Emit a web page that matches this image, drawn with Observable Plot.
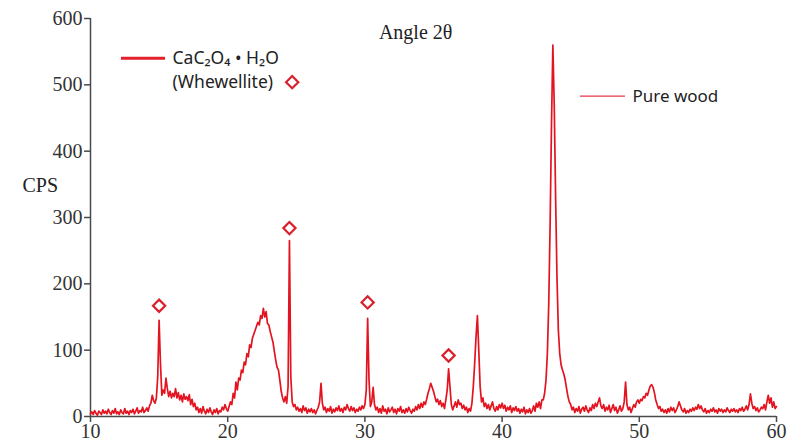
<!DOCTYPE html>
<html>
<head>
<meta charset="utf-8">
<script src="https://cdn.jsdelivr.net/npm/d3@7"></script>
<script src="https://cdn.jsdelivr.net/npm/@observablehq/plot@0.6"></script>
<style>
  html, body { margin: 0; padding: 0; background: #fff; }
  #chart svg g[aria-label$="tick label"], #chart svg g[aria-label$="tick label"] text {
    font-size: 20px !important;
    font-family: 'Liberation Serif', 'DejaVu Serif', serif !important;
    fill: #333;
  }
</style>
</head>
<body>
<div id="chart"></div>
<script>
// CPS readings, one every 0.1° of 2θ, starting at 10.0°
const startAngle = 10;
const angleStep = 0.1;
const cps = [
  4,7,3,9,5,2,8,6,3,10,
  5,8,4,11,6,3,9,5,12,4,
  7,3,10,6,4,12,5,8,3,9,
  6,11,4,8,13,5,9,7,14,6,
  9,13,8,16,20,32,24,20,28,60,
  145,80,32,40,35,58,42,30,38,28,
  35,30,42,28,36,25,32,22,34,26,
  30,24,33,18,26,15,20,10,14,6,
  12,5,15,8,4,11,6,13,7,3,
  10,6,12,4,9,7,14,10,18,12,
  8,15,22,18,35,28,52,40,58,55,
  70,66,82,78,95,90,108,104,118,124,
  130,136,142,138,152,148,163,150,158,140,
  138,128,120,112,98,85,74,70,55,38,
  28,22,30,20,45,265,60,22,15,18,
  10,14,8,12,6,16,9,13,5,11,
  7,12,6,10,4,9,14,22,50,20,
  10,14,6,12,8,15,5,11,7,13,
  9,16,8,12,6,14,10,18,12,8,
  15,9,13,6,11,8,14,10,16,12,
  18,40,148,55,15,22,44,18,10,14,
  6,12,5,16,8,11,4,13,7,10,
  14,6,11,4,12,8,15,6,10,5,
  12,7,14,9,5,11,8,15,10,18,
  12,20,14,22,18,26,35,42,50,44,
  38,30,22,26,18,24,15,20,12,25,
  40,72,45,18,10,16,22,14,25,18,
  20,12,17,10,14,6,12,8,20,45,
  80,120,152,100,45,22,28,15,20,12,
  18,10,16,22,12,8,15,10,18,13,
  20,12,17,8,14,10,16,6,13,9,
  15,8,12,5,11,7,14,4,10,6,
  12,5,9,16,8,20,14,22,12,25,
  25,35,55,95,170,290,440,560,470,330,
  210,130,95,78,70,64,55,42,30,22,
  18,10,14,6,12,8,15,5,11,14,
  8,16,10,6,13,9,18,12,20,15,
  22,28,16,12,18,8,14,10,17,6,
  12,18,9,14,5,10,16,8,12,22,
  52,18,10,14,6,12,18,14,22,25,
  20,26,24,30,28,35,32,40,46,48,
  44,36,25,18,12,15,8,11,6,10,
  5,12,7,14,9,13,6,10,15,22,
  16,10,7,12,5,9,6,11,8,13,
  9,14,11,18,12,16,10,7,12,5,
  9,6,11,8,13,7,10,5,12,8,
  11,6,10,7,13,9,6,11,8,12,
  7,10,6,12,9,14,8,11,16,10,
  18,34,20,12,15,9,13,7,10,14,
  12,18,10,22,32,20,28,14,22,12,
  15
];
// Whewellite marker positions (angle, CPS)
const markAngle = [15.0, 24.5, 30.2, 36.1];
const markCps = [167, 284, 172, 92];
// Axis ticks
const xTicks = [10, 20, 30, 40, 50, 60];
const yTicks = [0, 100, 200, 300, 400, 500, 600];

const trace = cps.map((v, i) => ({angle: startAngle + i * angleStep, cps: v}));
const markers = markAngle.map((a, i) => ({angle: a, cps: markCps[i]}));

const red = "#e3141f";
const axisColor = "#4a4a4a";
const serif = "'Liberation Serif', 'DejaVu Serif', serif";
const sans = "'Noto Sans', 'Open Sans', sans-serif";

const chart = Plot.plot({
  width: 798,
  height: 448,
  marginLeft: 90,
  marginRight: 22,
  marginTop: 18,
  marginBottom: 32,
  style: {fontFamily: serif, fontSize: "20px", color: "#333", background: "#fff"},
  x: {domain: [10, 60]},
  y: {domain: [0, 600]},
  marks: [
    Plot.axisX({ticks: xTicks, tickSize: 6, tickPadding: 1, tickFormat: d3.format("d"), label: null, stroke: axisColor, strokeWidth: 1.5, fontSize: 20, fill: "#333", fontFamily: serif}),
    Plot.axisY({ticks: yTicks, tickSize: 6, tickPadding: 2, tickFormat: d3.format("d"), label: null, stroke: axisColor, strokeWidth: 1.5, fontSize: 20, fill: "#333", fontFamily: serif}),
    Plot.ruleY([0], {stroke: axisColor, strokeWidth: 1.5}),
    Plot.ruleX([10], {stroke: axisColor, strokeWidth: 1.5}),
    Plot.line(trace, {x: "angle", y: "cps", stroke: red, strokeWidth: 1.7, strokeLinejoin: "round"}),
    Plot.dot(markers, {x: "angle", y: "cps", symbol: "diamond2", r: 5.5, stroke: "#d9202b", strokeWidth: 2.2, fill: "#fff"}),
    // axis titles
    Plot.text(["Angle 2θ"], {x: 33.7, y: 579, fontSize: 20, fill: "#222", fontFamily: serif}),
    Plot.text(["CPS"], {y: 348, frameAnchor: "left", dx: -68, textAnchor: "start", fontSize: 20, fill: "#222", fontFamily: serif}),
    // legend
    Plot.ruleY([540], {x1: 12.26, x2: 15.47, stroke: "#e4202c", strokeWidth: 3}),
    Plot.text(["CaC₂O₄ • H₂O"], {x: 15.98, y: 540, textAnchor: "start", fontFamily: sans, fontSize: 17.5, fill: "#222"}),
    Plot.text(["(Whewellite)"], {x: 15.98, y: 504, textAnchor: "start", fontFamily: sans, fontSize: 17.5, fill: "#222"}),
    Plot.dot([0], {x: 24.7, y: 504, symbol: "diamond2", r: 5.5, stroke: "#d9202b", strokeWidth: 2.2, fill: "#fff"}),
    Plot.ruleY([483], {x1: 45.71, x2: 48.99, stroke: "#e8384a", strokeWidth: 1.3}),
    Plot.text(["Pure wood"], {x: 49.5, y: 483, textAnchor: "start", fontFamily: sans, fontSize: 17, fill: "#222"})
  ]
});
document.getElementById("chart").appendChild(chart);
</script>
</body>
</html>
